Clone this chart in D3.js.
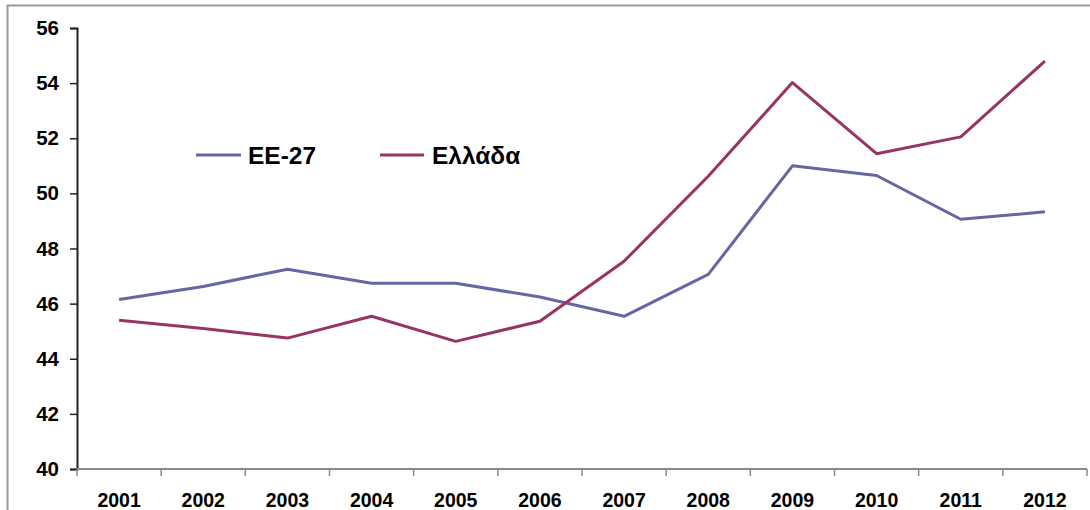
<!DOCTYPE html>
<html><head><meta charset="utf-8">
<script src="https://cdn.jsdelivr.net/npm/d3@7"></script>
<style>body{margin:0;background:#fff}svg{display:block}text{font-family:"Liberation Sans",Arial,sans-serif;font-weight:bold}</style>
</head><body><svg id="c" width="1090" height="510"></svg>
<script>
const years = ["2001","2002","2003","2004","2005","2006","2007","2008","2009","2010","2011","2012"];
const eu27 = [46.15,46.62,47.25,46.74,46.74,46.24,45.54,47.06,51.0,50.65,49.06,49.33];
const greece = [45.4,45.1,44.75,45.54,44.63,45.36,47.54,50.62,54.02,51.44,52.05,54.8];
const yTicks = [40,42,44,46,48,50,52,54,56];
const seriesNames = ["ΕΕ-27","Ελλάδα"];
const colors = ["#6467A2","#973463"];

const svg = d3.select("#c");
// outer chart border
svg.append("path").attr("d","M7.5,511 V5.5 H1091").attr("fill","none").attr("stroke","#9a9a9a").attr("stroke-width",2);

const x = d3.scaleBand().domain(years).range([77,1087]);
const y = d3.scaleLinear().domain([40,56]).range([469,28]);

// y axis
const ya = svg.append("g").attr("transform","translate(77,0)")
  .call(d3.axisLeft(y).tickValues(yTicks).tickSize(7).tickPadding(11).tickFormat(d3.format("d")));
ya.select(".domain").attr("stroke","#222").attr("stroke-width",2);
ya.selectAll(".tick line").attr("stroke","#222").attr("stroke-width",1.5);
ya.selectAll(".tick text").attr("font-size","20.5px").attr("fill","#000").attr("font-family","Liberation Sans, Arial").attr("font-weight","bold");

// x axis
const xa = svg.append("g").attr("transform","translate(0,469)")
  .call(d3.axisBottom(x).tickSize(0).tickPadding(24));
xa.select(".domain").attr("stroke","#8a8a8a").attr("stroke-width",2).attr("d","M77,0H1087");
xa.selectAll(".tick text").attr("font-size","19.5px").attr("fill","#000").attr("font-family","Liberation Sans, Arial").attr("font-weight","bold");
// boundary ticks between categories
const bounds = years.map(d=>x(d)).concat([x.range()[1]]);
svg.append("g").selectAll("line").data(bounds).join("line")
  .attr("x1",d=>d).attr("x2",d=>d).attr("y1",469).attr("y2",476)
  .attr("stroke","#8a8a8a").attr("stroke-width",1.5);

const line = d3.line().x((d,i)=>x(years[i])+x.bandwidth()/2).y(d=>y(d));
[eu27,greece].forEach((s,k)=>{
  svg.append("path").datum(s).attr("d",line).attr("fill","none")
    .attr("stroke",colors[k]).attr("stroke-width",3).attr("stroke-linejoin","round");
});

// legend
const leg = [{x1:196,x2:241,tx:248},{x1:380,x2:424,tx:432}];
leg.forEach((l,k)=>{
  svg.append("line").attr("x1",l.x1).attr("x2",l.x2).attr("y1",155).attr("y2",155)
    .attr("stroke",colors[k]).attr("stroke-width",3);
  svg.append("text").attr("x",l.tx).attr("y",164).attr("font-size","24.5px").attr("fill","#000").text(seriesNames[k]);
});
</script></body></html>
